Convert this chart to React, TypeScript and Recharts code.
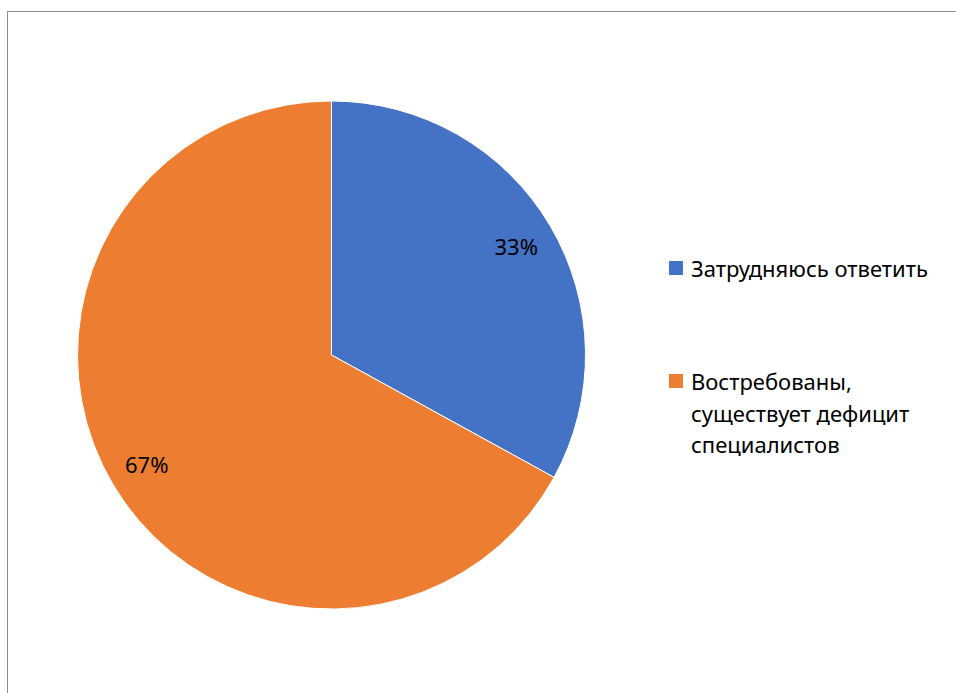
import React from 'react';
import { PieChart, Pie, Cell, Legend } from 'recharts';

const CATEGORIES = ['Затрудняюсь ответить', 'Востребованы, существует дефицит специалистов'];
const VALUES = [33, 67];
const COLORS = ['#4472C4', '#ED7D31'];

const data = CATEGORIES.map((name, i) => ({ name, value: VALUES[i] }));

const FONT = '"Noto Sans", "Open Sans", sans-serif';
const RADIAN = Math.PI / 180;

const renderLabel = (props: any) => {
  const { cx, cy, midAngle, outerRadius, percent } = props;
  const r = outerRadius * 0.845;
  const x = cx + r * Math.cos(-midAngle * RADIAN);
  const y = cy + r * Math.sin(-midAngle * RADIAN);
  return (
    <text x={x} y={y} fill="#000" textAnchor="middle" dominantBaseline="central" fontSize={22} fontFamily={FONT}>
      {`${Math.round(percent * 100)}%`}
    </text>
  );
};

// legend item tops, relative to the legend wrapper
const ITEM_TOPS = [0, 113];

const renderLegend = (props: any) => {
  // keep the legend in the category order, whatever order the payload comes in
  const items = [...(props.payload || [])].sort(
    (a: any, b: any) => CATEGORIES.indexOf(a.value) - CATEGORIES.indexOf(b.value)
  );
  return (
    <div style={{ position: 'relative', width: 280, height: 220, fontFamily: FONT, fontSize: 22, lineHeight: '31.5px', color: '#000' }}>
      {items.map((entry: any, i: number) => (
        <div key={entry.value} style={{ position: 'absolute', left: 0, top: ITEM_TOPS[i], width: 280 }}>
          <span style={{ position: 'absolute', left: 0, top: 8, width: 14, height: 14, background: COLORS[CATEGORIES.indexOf(entry.value)] }} />
          <div style={{ marginLeft: 22, width: 255 }}>{entry.value}</div>
        </div>
      ))}
    </div>
  );
};

export default function App() {
  return (
    <div style={{ position: 'absolute', left: 0, top: 0, width: 956, height: 693, background: '#fff', overflow: 'hidden' }}>
      <div style={{ position: 'absolute', left: 7, top: 11, width: 1100, height: 1100, border: '1px solid #8c8c8c' }} />
      <div style={{ position: 'absolute', left: 0, top: 0 }}>
        <PieChart width={956} height={693} margin={{ top: 0, right: 0, bottom: 0, left: 0 }}>
          <Pie
            data={data}
            dataKey="value"
            nameKey="name"
            cx={331.5}
            cy={355}
            outerRadius={254}
            startAngle={90}
            endAngle={-270}
            stroke="#fff"
            strokeWidth={1}
            label={renderLabel}
            labelLine={false}
            isAnimationActive={false}
          >
            {data.map((d, i) => (
              <Cell key={d.name} fill={COLORS[i]} />
            ))}
          </Pie>
          <Legend
            layout="vertical"
            content={renderLegend}
            wrapperStyle={{ position: 'absolute', left: 669, top: 253, width: 280 }}
          />
        </PieChart>
      </div>
    </div>
  );
}
